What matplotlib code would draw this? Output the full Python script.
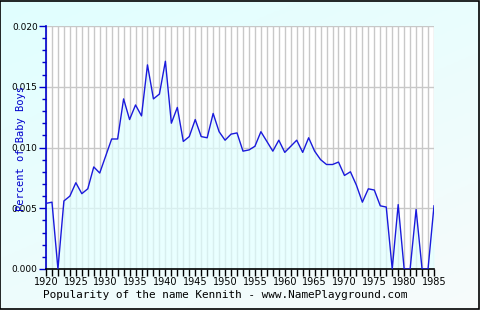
import numpy as np
import matplotlib.pyplot as plt
from matplotlib.ticker import MultipleLocator

# data
years = list(range(1920, 1986))
percent = [
    0.0054, 0.0055, 0.0000, 0.0056, 0.0060, 0.0071, 0.0062, 0.0066, 0.0084, 0.0079,
    0.0093, 0.0107, 0.0107, 0.0140, 0.0123, 0.0135, 0.0126, 0.0168, 0.0140, 0.0144,
    0.0171, 0.0120, 0.0133, 0.0105, 0.0109, 0.0123, 0.0109, 0.0108, 0.0128, 0.0113,
    0.0106, 0.0111, 0.0112, 0.0097, 0.0098, 0.0101, 0.0113, 0.0105, 0.0097, 0.0106,
    0.0096, 0.0101, 0.0106, 0.0096, 0.0108, 0.0097, 0.0090, 0.0086, 0.0086, 0.0088,
    0.0077, 0.0080, 0.0069, 0.0055, 0.0066, 0.0065, 0.0052, 0.0051, 0.0000, 0.0053,
    0.0000, 0.0000, 0.0049, 0.0000, 0.0000, 0.0052,
]
title = "Popularity of the name Kennith - www.NamePlayground.com"
ylabel = "Percent of Baby Boys"

fig = plt.figure(figsize=(4.8, 3.1), dpi=100)

# background gradient
bg = fig.add_axes([0, 0, 1, 1], zorder=-10)
gx, gy = np.meshgrid(np.linspace(0, 1, 200), np.linspace(0, 1, 200))
grad = np.clip(0.6 * gy + 0.4 * gx, 0, 1)
bg.imshow(grad, cmap=plt.matplotlib.colors.LinearSegmentedColormap.from_list(
    "bgc", ["#e0ffff", "#f7fbfb"]), aspect="auto", extent=[0, 1, 0, 1])
bg.set_xlim(0, 1)
bg.set_ylim(0, 1)
bg.axis("off")
bg.add_patch(plt.Rectangle((0.001, 0.002), 0.997, 0.995, fill=False,
                           edgecolor="black", linewidth=1.2, transform=bg.transAxes))

ax = fig.add_axes([46 / 480, 1 - 269 / 310, 388 / 480, 243 / 310])
ax.set_facecolor("white")
ax.set_xlim(1920, 1985)
ax.set_ylim(0, 0.020)

for yr in years:
    ax.axvline(yr, color="#c8c8c8", linewidth=1, zorder=1)
for v in [0.005, 0.010, 0.015, 0.020]:
    ax.axhline(v, color="#c8c8c8", linewidth=1, zorder=1)

ax.fill_between(years, percent, 0, color="#e0ffff", alpha=0.7, zorder=2, linewidth=0)
ax.plot(years, percent, color="#1a1adc", linewidth=1, zorder=3)

for s in ["top", "right"]:
    ax.spines[s].set_visible(False)
ax.spines["left"].set_color("#0000cc")
ax.spines["left"].set_linewidth(1.2)
ax.spines["bottom"].set_color("black")
ax.spines["bottom"].set_linewidth(1.2)

ax.xaxis.set_major_locator(MultipleLocator(5))
ax.xaxis.set_minor_locator(MultipleLocator(1))
ax.yaxis.set_major_locator(MultipleLocator(0.005))
ax.yaxis.set_minor_locator(MultipleLocator(0.001))
ax.yaxis.set_major_formatter(plt.FuncFormatter(lambda v, p: "%.3f" % v))
ax.tick_params(axis="x", which="both", direction="out", length=5, width=1,
               color="black", labelsize=7, pad=1)
ax.tick_params(axis="y", which="major", direction="out", length=5, width=1,
               color="#0000cc", labelsize=6.5, pad=1)
ax.tick_params(axis="y", which="minor", direction="out", length=3, width=1,
               color="#0000cc")

fig.text(0.043, 0.52, ylabel, rotation=90, color="#0000cc", fontsize=7.5,
         ha="center", va="center", family="DejaVu Sans Mono")
fig.text(225 / 480, 0.048, title, color="black", fontsize=7.9, ha="center",
         va="center", family="DejaVu Sans Mono")

fig.savefig("out.png", dpi=100)
